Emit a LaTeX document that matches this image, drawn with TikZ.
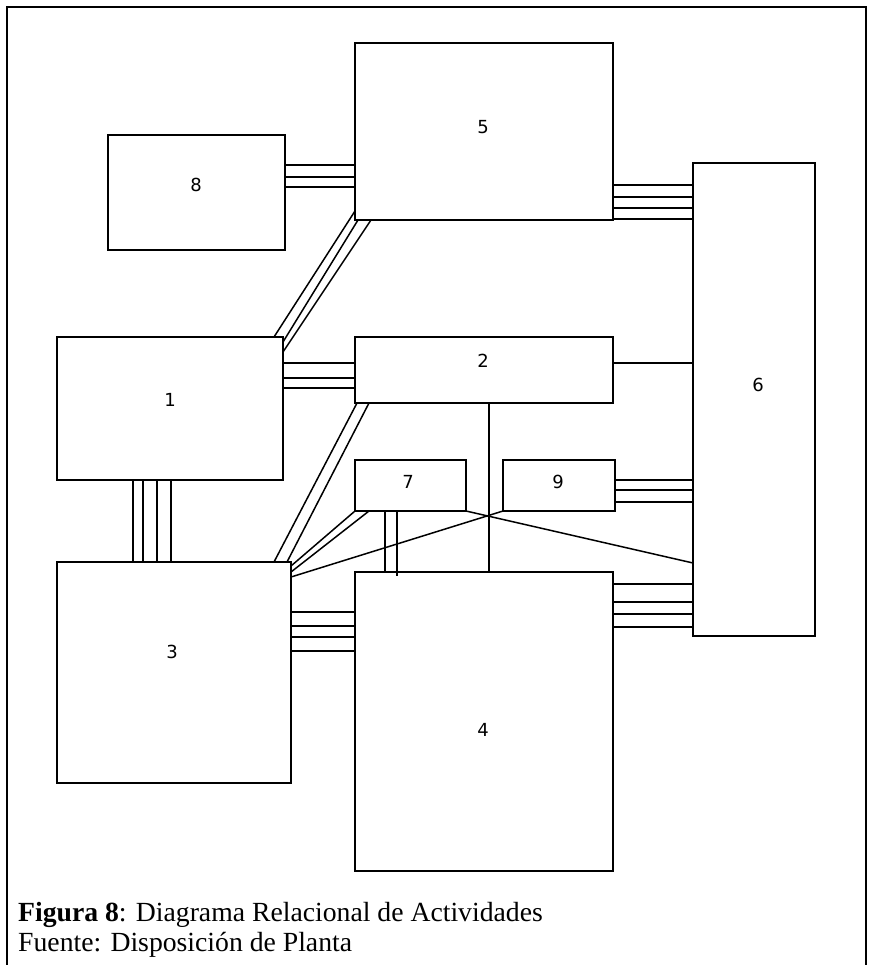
\documentclass[tikz,border=0pt]{standalone}
\usepackage{fontspec}
\setmainfont{Liberation Serif}
\newfontfamily\numfont{DejaVu Sans}
\usetikzlibrary{calc}
\tikzset{
  box/.style={draw, line width=1.6pt, inner sep=0pt, outer sep=0pt, fill=white},
  num/.style={font=\numfont\fontsize{18}{20}\selectfont, inner sep=0pt},
  link/.style={line width=1.5pt},
  frame/.style={line width=1.6pt},
  captext/.style={font=\fontsize{27.7}{30}\selectfont, inner sep=0pt, anchor=base west}
}
\begin{document}
\begin{tikzpicture}[x=1pt,y=-1pt]
\useasboundingbox (0,0) rectangle (870,965);
% frame
\coordinate (f1) at (7,965);
\coordinate (f2) at (7,7);
\coordinate (f3) at (866,7);
\coordinate (f4) at (866,965);
\draw[frame] (f1) -- (f2) -- (f3) -- (f4);
% boxes
\node[box, minimum width=258, minimum height=177] (b5) at (484,131.5) {};
\node[box, minimum width=177, minimum height=115] (b8) at (196.5,192.5) {};
\node[box, minimum width=122, minimum height=473] (b6) at (754,399.5) {};
\node[box, minimum width=226, minimum height=143] (b1) at (170,408.5) {};
\node[box, minimum width=258, minimum height=66] (b2) at (484,370) {};
\node[box, minimum width=111, minimum height=51] (b7) at (410.5,485.5) {};
\node[box, minimum width=112, minimum height=51] (b9) at (559,485.5) {};
\node[box, minimum width=234, minimum height=221] (b3) at (174,672.5) {};
\node[box, minimum width=258, minimum height=299] (b4) at (484,721.5) {};
% numbers
\node[num] (n5) at (483,127) {5};
\node[num] (n8) at (196,185) {8};
\node[num] (n6) at (758,385) {6};
\node[num] (n1) at (170,400) {1};
\node[num] (n2) at (483,361) {2};
\node[num] (n7) at (408,482) {7};
\node[num] (n9) at (558,482) {9};
\node[num] (n3) at (172,652) {3};
\node[num] (n4) at (483,730) {4};
% horizontal links
\foreach \y in {165,177,187} \draw[link] (b8.east |- 0,\y) -- (b5.west |- 0,\y);
\foreach \y in {185,197,208,219} \draw[link] (b5.east |- 0,\y) -- (b6.west |- 0,\y);
\foreach \y in {363,378,388} \draw[link] (b1.east |- 0,\y) -- (b2.west |- 0,\y);
\draw[link] (b2.east |- 0,363) -- (b6.west |- 0,363);
\foreach \y in {480,490,502} \draw[link] (b9.east |- 0,\y) -- (b6.west |- 0,\y);
\foreach \y in {612,626,637,651} \draw[link] (b3.east |- 0,\y) -- (b4.west |- 0,\y);
\foreach \y in {584,602,614,627} \draw[link] (b4.east |- 0,\y) -- (b6.west |- 0,\y);
% vertical links
\foreach \x in {133,143,157,171} \draw[link] (b1.south -| \x,0) -- (b3.north -| \x,0);
\draw[link] (b2.south -| 489,0) -- (b4.north -| 489,0);
\draw[link] (b7.south -| 385,0) -- (b4.north -| 385,0);
\draw[link] (b7.south -| 397,0) -- ($(b4.north -| 397,0)+(0,4)$);
% diagonal links
\draw[link] ($(b1.north east)+(-9,0)$) -- ($(b5.south west)+(0,-9)$);
\draw[link] ($(b1.north east)+(0,5)$) -- ($(b5.south west)+(3,0)$);
\draw[link] ($(b1.north east)+(0,15)$) -- ($(b5.south west)+(16,0)$);
\draw[link] ($(b3.north east)+(-17,0)$) -- ($(b2.south west)+(2,0)$);
\draw[link] ($(b3.north east)+(-4,0)$) -- ($(b2.south west)+(14,0)$);
\draw[link] ($(b3.north east)+(0,4)$) -- (b7.south west);
\draw[link] ($(b3.north east)+(0,10)$) -- ($(b7.south west)+(14,0)$);
\draw[link] ($(b3.north east)+(0,15)$) -- (b9.south west);
\draw[link] (b7.south east) -- (b6.west |- 0,563);
% caption
\node[captext] (c1) at (18,921) {\textbf{Figura 8}: Diagrama Relacional de Actividades};
\node[captext] (c2) at (18,951) {Fuente: Disposición de Planta};
\end{tikzpicture}
\end{document}
